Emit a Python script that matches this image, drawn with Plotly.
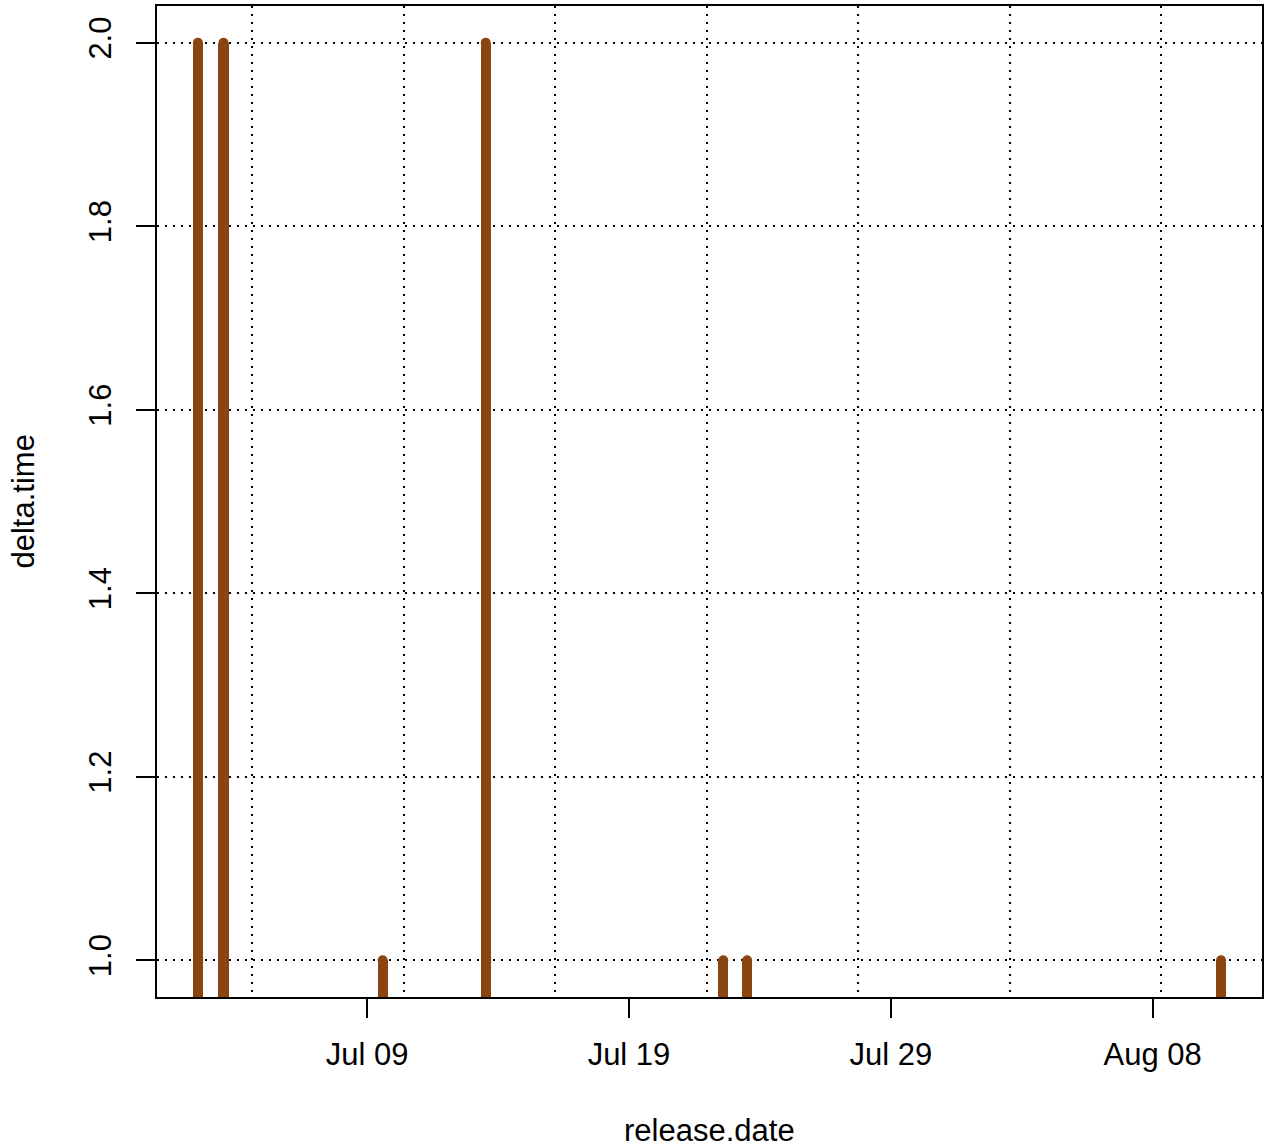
import pandas as pd
import plotly.graph_objects as go

# ---- data ----
release_date = [
    "2023-07-02 12:55", "2023-07-03 12:22", "2023-07-09 14:12",
    "2023-07-13 12:44", "2023-07-22 14:24", "2023-07-23 12:16",
    "2023-08-10 14:40",
]
delta_time = [2, 2, 1, 2, 1, 1, 1]

x_tick_vals = ["2023-07-09", "2023-07-19", "2023-07-29", "2023-08-08"]
x_tick_text = ["Jul 09", "Jul 19", "Jul 29", "Aug 08"]
y_tick_vals = [1.0, 1.2, 1.4, 1.6, 1.8, 2.0]
y_tick_text = ["1.0", "1.2", "1.4", "1.6", "1.8", "2.0"]

# ---- style ----
BAR_COLOR = "#8B4513"
FONT = "Liberation Sans, Arial, sans-serif"
FS = 31
W, H = 1272, 1148
L, R, T, B = 157, 10, 6, 151

dates = pd.to_datetime(release_date)
dmin, dmax = dates.min(), dates.max()
pad = (dmax - dmin) * 0.04
x_range = [dmin - pad, dmax + pad]
ymin, ymax = min(delta_time), max(delta_time)
ypad = (ymax - ymin) * 0.04
y_range = [ymin - ypad, ymax + ypad]

bar_width_ms = 0.39 * 86400000

fig = go.Figure()
fig.add_trace(go.Bar(
    x=dates, y=delta_time, base=0, width=bar_width_ms,
    marker=dict(color=BAR_COLOR, line=dict(width=0)),
    showlegend=False, hoverinfo="x+y",
))
# round caps on top of each spike
fig.add_trace(go.Scatter(
    x=dates, y=delta_time, mode="markers",
    marker=dict(color=BAR_COLOR, size=10, line=dict(width=0)),
    showlegend=False, hoverinfo="skip", cliponaxis=True,
))

grid_dash = "2px,6px"

fig.update_layout(
    width=W, height=H,
    margin=dict(l=L, r=R, t=T, b=B, autoexpand=False),
    paper_bgcolor="white", plot_bgcolor="white",
    font=dict(family=FONT, size=FS, color="black"),
    bargap=0,
    xaxis=dict(
        type="date", range=x_range,
        tickmode="array", tickvals=x_tick_vals, ticktext=x_tick_text,
        ticks="outside", ticklen=19, tickwidth=2, tickcolor="black",
        showline=True, linecolor="black", linewidth=2, mirror=True,
        showgrid=False, zeroline=False,
        ticklabelstandoff=10,
        tickfont=dict(family=FONT, size=FS, color="black"),
        minor=dict(
            tickmode="linear", tick0="2023-07-04 14:40", dtick=500000000,
            showgrid=True, gridcolor="black", gridwidth=1.5, griddash=grid_dash,
            ticklen=0,
        ),
    ),
    yaxis=dict(
        range=y_range,
        tickmode="array", tickvals=y_tick_vals, ticktext=y_tick_text,
        ticks="outside", ticklen=19, tickwidth=2, tickcolor="black",
        tickangle=-90,
        showline=True, linecolor="black", linewidth=2, mirror=True,
        showgrid=True, gridcolor="black", gridwidth=1.5, griddash=grid_dash,
        zeroline=False,
        ticklabelstandoff=13,
        tickfont=dict(family=FONT, size=FS, color="black"),
    ),
    annotations=[
        dict(text="release.date", xref="paper", yref="paper",
             x=0.5, y=(997 - 1130) / 991, xanchor="center", yanchor="middle",
             showarrow=False, font=dict(family=FONT, size=FS, color="black")),
        dict(text="delta.time", xref="paper", yref="paper",
             x=(23 - 157) / 1105, y=0.5, xanchor="center", yanchor="middle",
             textangle=-90,
             showarrow=False, font=dict(family=FONT, size=FS, color="black")),
    ],
)

fig.write_html("out.html", config={"displayModeBar": False},
               post_script="document.body.style.margin='0px';")
